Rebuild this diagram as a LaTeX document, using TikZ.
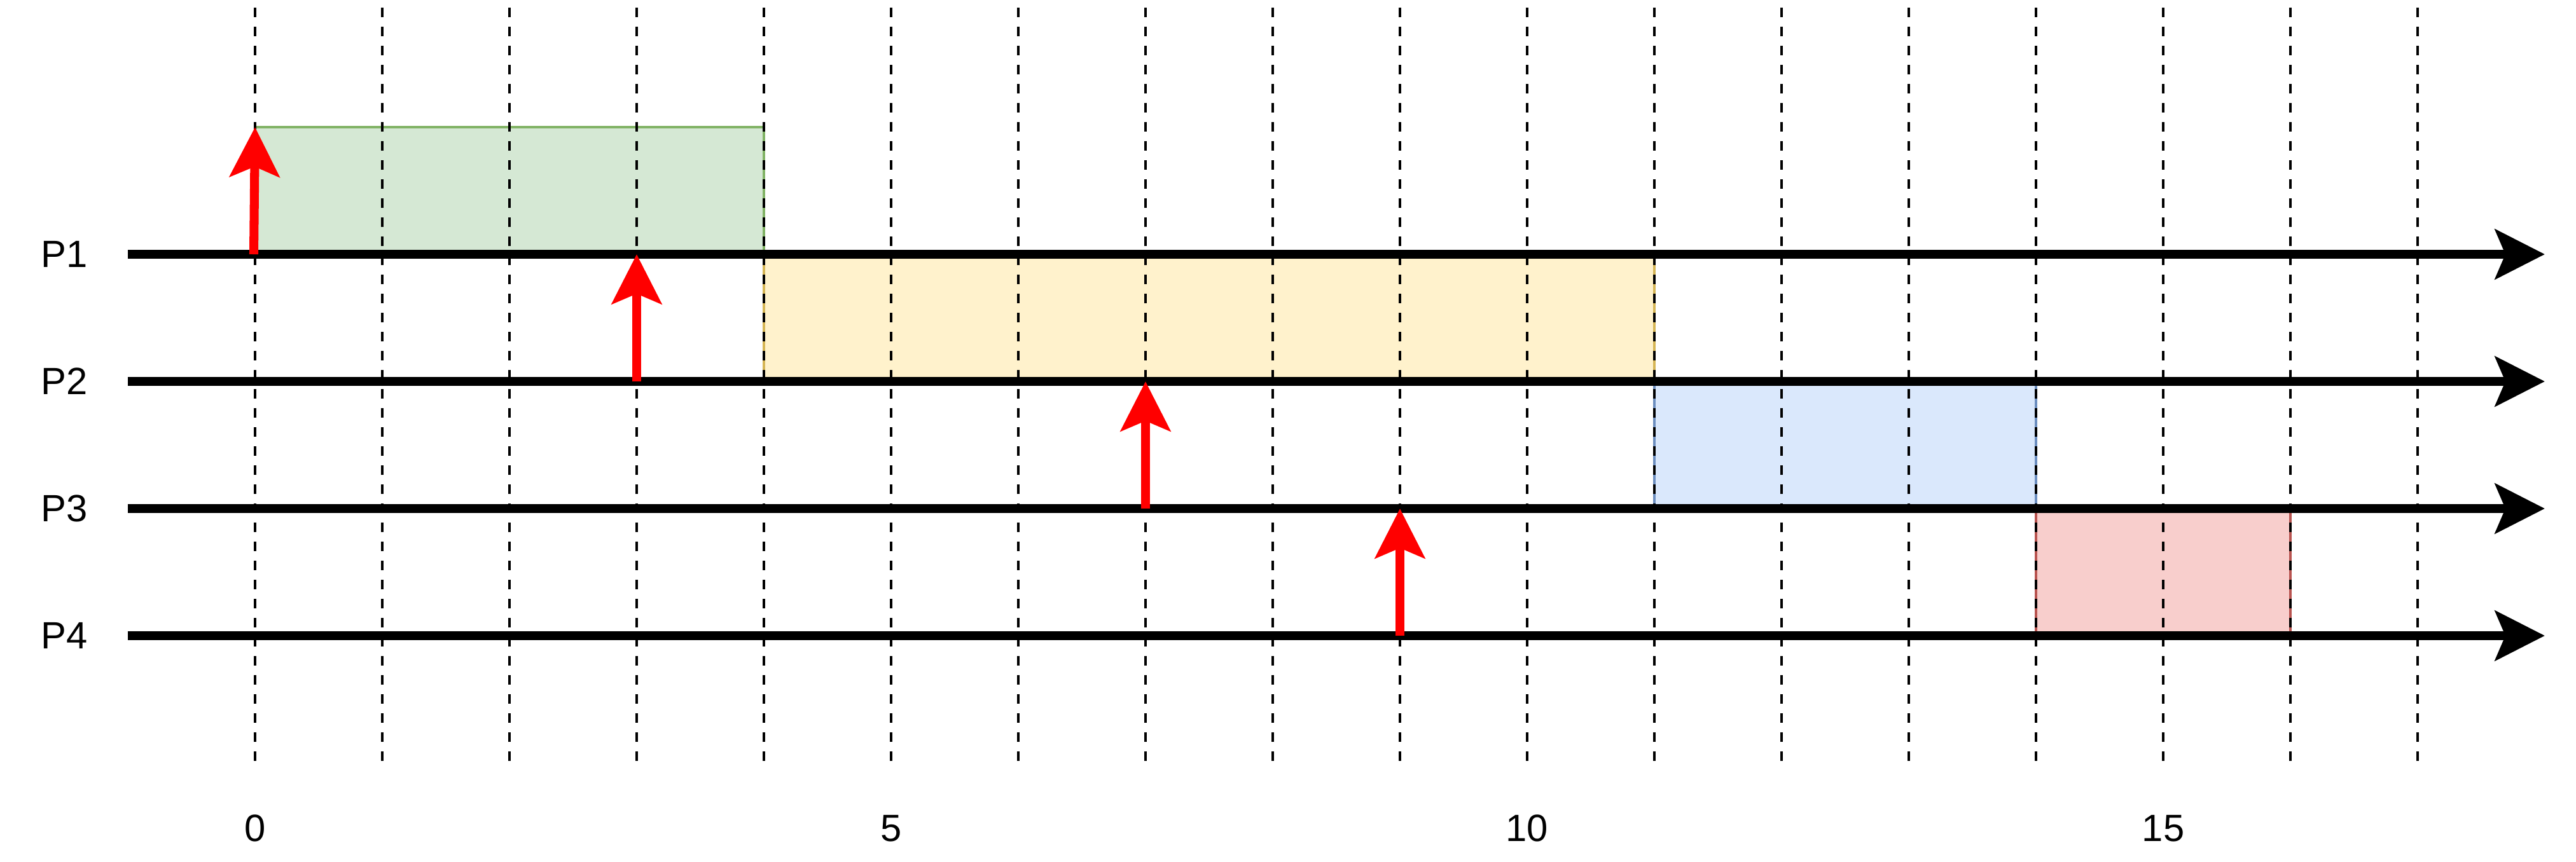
\documentclass[tikz,border=0pt]{standalone}
\usepackage{fontspec}
\setsansfont{Liberation Sans}
\usepackage{xcolor}
\usepackage{tikz}
\usetikzlibrary{arrows.meta}
\tikzset{>={Stealth[length=3.9mm,width=3.9mm,inset=0.8mm]}}
\definecolor{verdefondo}{HTML}{D5E8D4}
\definecolor{verdeborde}{HTML}{82B366}
\definecolor{amarillofondo}{HTML}{FFF2CC}
\definecolor{amarilloborde}{HTML}{D6B656}
\definecolor{azulfondo}{HTML}{DAE8FC}
\definecolor{azulborde}{HTML}{6C8EBF}
\definecolor{rojofondo}{HTML}{F8CECC}
\definecolor{rojoborde}{HTML}{B85450}

\begin{document}
\begin{tikzpicture}[font=\sffamily\fontsize{8.5}{10}\selectfont,
	rafaga/.style={draw,line width=0.7pt,inner sep=0pt,outer sep=0pt,minimum height=1cm},
	tiempo/.style={line width=0.6pt,dash pattern=on 0.75mm off 0.75mm},
	eje/.style={->,line width=2.1pt},
	llegada/.style={->,red,line width=2pt}]
	\useasboundingbox (-2.005,-4.775) rectangle (18.245,2.0);
	% rafagas
	\node[rafaga,draw=verdeborde,fill=verdefondo,minimum width=4cm] (rafaga1) at (2,0.5) {};
	\node[rafaga,draw=amarilloborde,fill=amarillofondo,minimum width=7cm] (rafaga2) at (7.5,-0.5) {};
	\node[rafaga,draw=azulborde,fill=azulfondo,minimum width=3cm] (rafaga3) at (12.5,-1.5) {};
	\node[rafaga,draw=rojoborde,fill=rojofondo,minimum width=2cm] (rafaga4) at (15,-2.5) {};
	% lineas de tiempo
	\foreach \t in {0,...,17} {
		\coordinate (arriba\t) at (\t,1.94);
		\coordinate (abajo\t) at (\t,-4.0);
		\draw[tiempo] (arriba\t)--(abajo\t);
	}
	\node (t0) at (0,-4.515) {0};
	\node (t5) at (5,-4.515) {5};
	\node (t10) at (10,-4.515) {10};
	\node (t15) at (15,-4.515) {15};
	% procesos
	\node (p1) at (-1.5,0) {P1};
	\node (p2) at (-1.5,-1) {P2};
	\node (p3) at (-1.5,-2) {P3};
	\node (p4) at (-1.5,-3) {P4};
	\coordinate (p1ini) at (-1,0); \coordinate (p1fin) at (18,0);
	\coordinate (p2ini) at (-1,-1); \coordinate (p2fin) at (18,-1);
	\coordinate (p3ini) at (-1,-2); \coordinate (p3fin) at (18,-2);
	\coordinate (p4ini) at (-1,-3); \coordinate (p4fin) at (18,-3);
	\draw[eje] (p1ini)--(p1fin);
	\draw[eje] (p2ini)--(p2fin);
	\draw[eje] (p3ini)--(p3fin);
	\draw[eje] (p4ini)--(p4fin);
	% llegadas
	\coordinate (l1ini) at (-0.01,0); \coordinate (l1fin) at (0,1);
	\coordinate (l2ini) at (3,-1); \coordinate (l2fin) at (3,0);
	\coordinate (l3ini) at (7,-2); \coordinate (l3fin) at (7,-1);
	\coordinate (l4ini) at (9,-3); \coordinate (l4fin) at (9,-2);
	\draw[llegada] (l1ini)--(l1fin);
	\draw[llegada] (l2ini)--(l2fin);
	\draw[llegada] (l3ini)--(l3fin);
	\draw[llegada] (l4ini)--(l4fin);
\end{tikzpicture}
\end{document}
